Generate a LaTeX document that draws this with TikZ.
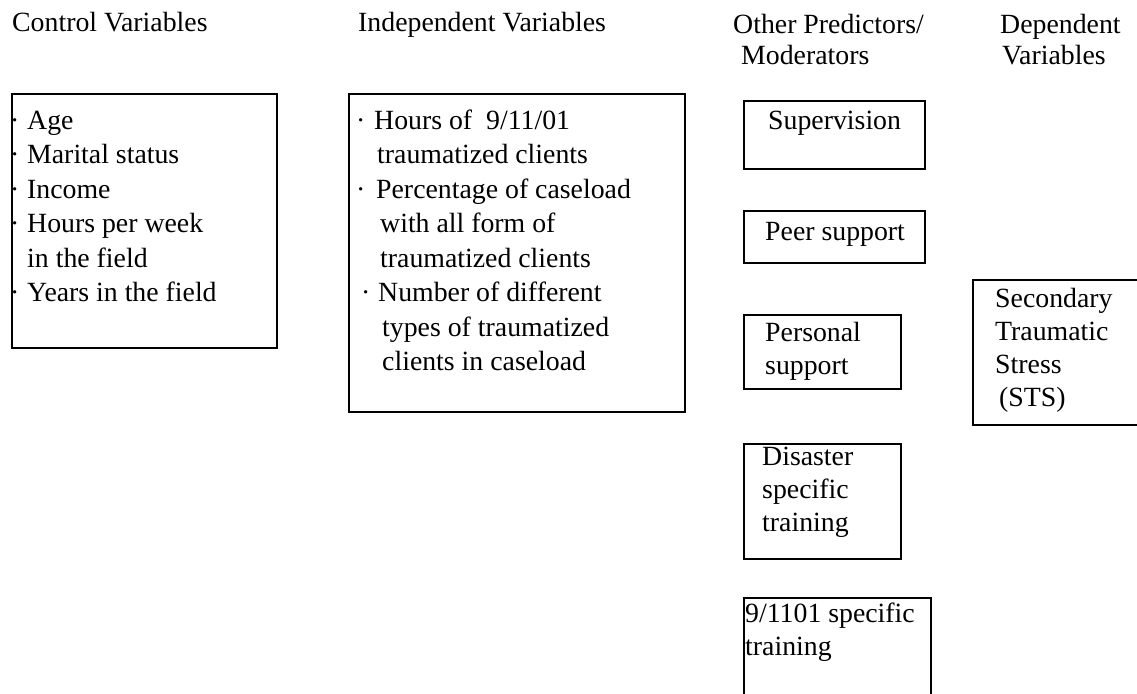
\documentclass[tikz,border=0pt]{standalone}
\usepackage{fontspec}
\setmainfont{Liberation Serif}
\newcommand\myStrut{\rule{0pt}{20pt}}
\newcommand\bul[1]{\makebox[#1pt][l]{\hspace{2pt}·}}
\begin{document}
\begin{tikzpicture}[x=1pt,y=-1pt,
  box/.style={draw=black,line width=1.6pt,rectangle,inner sep=0pt,anchor=north west},
  txt/.style={anchor=north west,inner sep=0pt,align=left,font=\fontsize{27.8}{34.5}\selectfont},
  txtb/.style={txt,font=\fontsize{27.8}{33}\selectfont},
  txth/.style={txt,font=\fontsize{27.8}{31}\selectfont}]
\useasboundingbox (0,0) rectangle (1137,693);
\clip (0,0) rectangle (1137,693);
% headers
\node[txt]  (hctrl) at (12,11) {\myStrut Control Variables};
\node[txt]  (hind)  at (358,11) {\myStrut Independent Variables};
\node[txth] (hoth)  at (733,13) {\myStrut Other Predictors/\\\hspace{8pt}Moderators};
\node[txth] (hdep)  at (1000,13) {\myStrut Dependent\\\hspace{2pt}Variables};
% boxes
\node[box,minimum width=265pt,minimum height=254pt] (ctrl) at (11,93) {};
\node[box,minimum width=336pt,minimum height=318pt] (ind) at (348,93) {};
\node[box,minimum width=181pt,minimum height=68pt] (sup) at (743,100) {};
\node[box,minimum width=181pt,minimum height=52pt] (peer) at (743,210) {};
\node[box,minimum width=157pt,minimum height=74pt] (pers) at (743,314) {};
\node[box,minimum width=168pt,minimum height=145pt] (sts) at (972,279) {};
\node[box,minimum width=157pt,minimum height=115pt] (dis) at (743,443) {};
\node[box,minimum width=187pt,minimum height=120pt] (nine) at (743,597) {};
% box texts
\node[txt] (tctrl) at (8,109) {\myStrut\bul{19}Age\\
\bul{19}Marital status\\
\bul{19}Income\\
\bul{19}Hours per week\\
\hspace{19pt}in the field\\
\bul{19}Years in the field};
\node[txt] (tind) at (354,109) {\myStrut\bul{20}Hours of\ \ 9/11/01\\
\hspace{23pt}traumatized clients\\
\bul{22}Percentage of caseload\\
\hspace{26pt}with all form of\\
\hspace{26pt}traumatized clients\\
\hspace{5pt}\bul{19}Number of different\\
\hspace{28pt}types of traumatized\\
\hspace{28pt}clients in caseload};
\node[txt]  (tsup)  at (768,109) {\myStrut Supervision};
\node[txt]  (tpeer) at (765,220) {\myStrut Peer support};
\node[txtb] (tpers) at (765,321) {\myStrut Personal\\support};
\node[txtb] (tsts)  at (995,287) {\myStrut Secondary\\Traumatic\\Stress\\\hspace{4pt}(STS)};
\node[txtb] (tdis)  at (762,445) {\myStrut Disaster\\specific\\training};
\node[txtb] (tnine) at (745,602) {\myStrut 9/1101 specific\\training};
\end{tikzpicture}
\end{document}
